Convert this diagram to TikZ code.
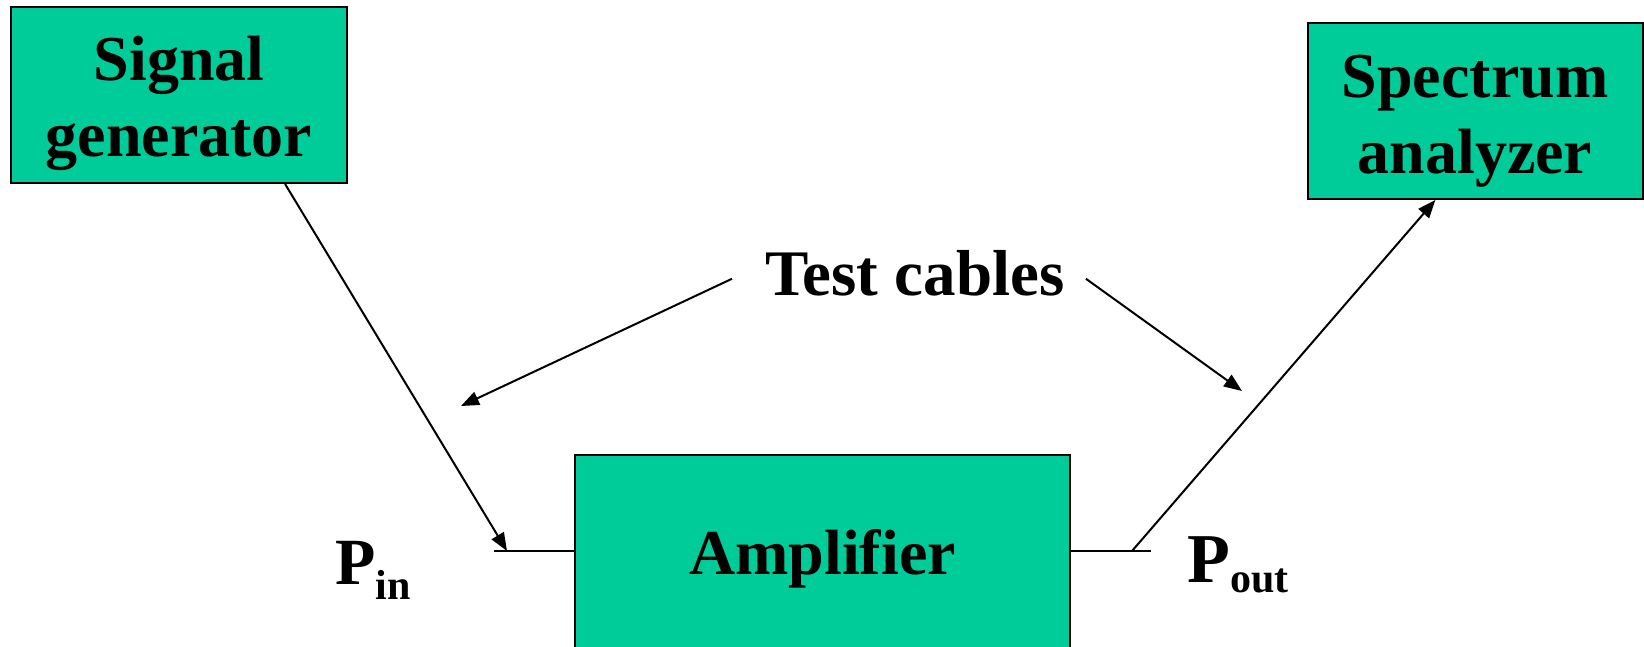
\documentclass[tikz,border=0pt]{standalone}
\usepackage{fontspec}
\setmainfont{Liberation Serif}
\usepackage{tikz}
\usetikzlibrary{positioning}
\usetikzlibrary{arrows.meta}
\definecolor{boxgreen}{RGB}{0,204,153}
\tikzset{instr/.style={draw=black, line width=1pt, fill=boxgreen, align=center,
font=\bfseries\fontsize{32}{38}\selectfont, inner sep=0pt},
cable/.style={line width=1pt, -{Triangle[length=9pt,width=7pt]}},
lead/.style={line width=1pt},
port/.style={anchor=base west, inner sep=0pt}}
\newcommand{\tallline}{\rule{0pt}{31pt}}

\begin{document}
\begin{tikzpicture}[x=0.5pt, y=-0.5pt]
\useasboundingbox (0,0) rectangle (1644,647);

				\node[instr, minimum width=168pt, minimum height=88pt] (sig) at (179,95)
					{\tallline Signal\\generator};
				\node[instr, minimum width=167.5pt, minimum height=88pt] (spec) at (1475,111)
					{\tallline Spectrum\\analyzer};
				\node[instr, minimum width=247.5pt, minimum height=98pt,
					text height=28pt, text depth=7pt] (amp) at (822.5,553) {Amplifier};

				% ports either side of the amplifier
				\coordinate (pin) at (494,551);
				\coordinate (pintip) at (507,551);
				\coordinate (pout) at (1151,551);
				\coordinate (poutfoot) at (1132,551);
				\draw[lead] (pin) -- (pin -| amp.west);
				\draw[lead] (pout -| amp.east) -- (pout);
				\node[port, font=\bfseries\fontsize{33}{33}\selectfont] (pinlbl) at (335,584)
					{P\raisebox{-7.5pt}{\fontsize{21}{21}\selectfont in}};
				\node[port, font=\bfseries\fontsize{35}{35}\selectfont] (poutlbl) at (1187,582)
					{P\raisebox{-5pt}{\fontsize{21}{21}\selectfont out}};

				\draw[cable] (sig.-40) -- (pintip);
				\draw[cable] (poutfoot) -- (spec.246);

				\node[anchor=base west, font=\bfseries\fontsize{32.5}{32.5}\selectfont, inner xsep=16.5pt]
					(cab) at (732,295) {Test cables};
				\coordinate (cabin) at (461,406);
				\coordinate (cabout) at (1242,391);
				\draw[cable] ([yshift=-3pt]cab.west) -- (cabin);
				\draw[cable] ([shift={(-6pt,-3pt)}]cab.east) -- (cabout);
\end{tikzpicture}
\end{document}
